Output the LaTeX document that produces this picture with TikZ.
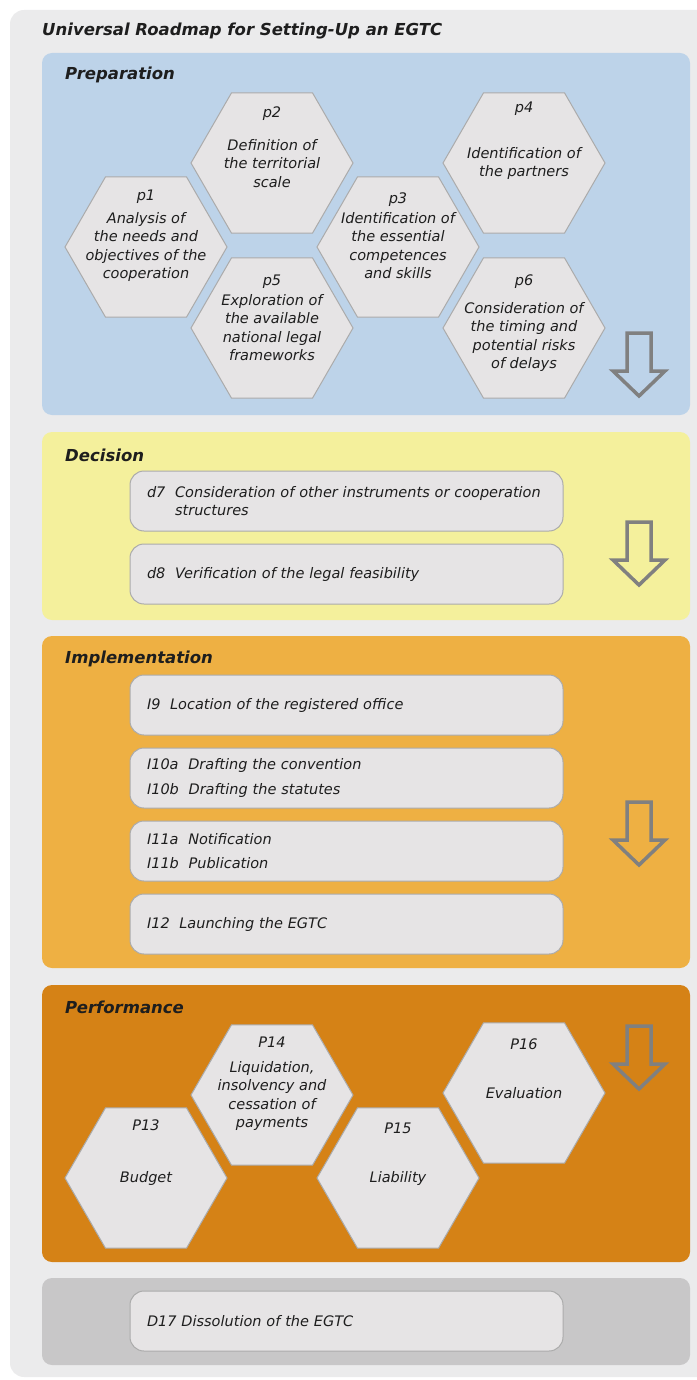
\documentclass[tikz,border=0pt]{standalone}
\usepackage{fontspec}
\setmainfont{DejaVu Sans}
\usetikzlibrary{shapes.geometric,positioning}

\definecolor{bgGray}{HTML}{EBEBEC}
\definecolor{prepBlue}{HTML}{BDD3E9}
\definecolor{decYellow}{HTML}{F4F09C}
\definecolor{implOrange}{HTML}{EEB043}
\definecolor{perfOrange}{HTML}{D58216}
\definecolor{dissGray}{HTML}{C8C7C8}
\definecolor{boxFill}{HTML}{E6E4E5}
\definecolor{boxLine}{HTML}{ABABAB}
\definecolor{arrowGray}{HTML}{808080}
\definecolor{inkBlack}{HTML}{1E1E1E}

\newcommand{\hexfont}{\fontsize{14.5}{18.5}\selectfont\itshape}
\newcommand{\stagearrow}[1]{%
  \draw[stagearr] (#1) ++(-12,0) -- ++(24,0) -- ++(0,38) -- ++(14,0)
    -- ++(-26,25) -- ++(-26,-25) -- ++(14,0) -- cycle;}

\tikzset{
  panel/.style={rounded corners=10pt},
  paneltitle/.style={anchor=west, inner sep=0, text=inkBlack,
    font=\fontsize{16.5}{20}\selectfont\bfseries\itshape},
  hexa/.style={regular polygon, regular polygon sides=6, minimum size=162pt,
    inner sep=0, draw=boxLine, fill=boxFill, line width=1pt},
  hextxt/.style={align=center, inner sep=0, text=inkBlack, font=\hexfont},
  stepbox/.style={rectangle, rounded corners=14pt, draw=boxLine, fill=boxFill,
    line width=1pt, minimum width=433pt, minimum height=60pt, text width=399pt,
    inner xsep=17pt, align=left, text=inkBlack, font=\hexfont},
  stagearr/.style={draw=arrowGray, line width=3.5pt, miter limit=10}
}

\begin{document}
\begin{tikzpicture}[x=1pt,y=-1pt]
  \useasboundingbox (0,0) rectangle (696,1380);

  % background and stages
  \fill[bgGray, rounded corners=14pt] (10,10) rectangle (720,1377);
  \fill[prepBlue, panel] (42,53) rectangle (690,415);
  \fill[decYellow, panel] (42,432) rectangle (690,620);
  \fill[implOrange, panel] (42,636) rectangle (690,968);
  \fill[perfOrange, panel] (42,985) rectangle (690,1262);
  \fill[dissGray, panel] (42,1278) rectangle (690,1365);

  \node[paneltitle] (title) at (42,31) {Universal Roadmap for Setting-Up an EGTC};
  \node[paneltitle] (prep) at (65,75) {Preparation};
  \node[paneltitle] (dec) at (65,455) {Decision};
  \node[paneltitle] (impl) at (65,659) {Implementation};
  \node[paneltitle] (perf) at (65,1007) {Performance};

  % preparation
  \node[hexa] (p1) at (146,247) {};
  \node[hexa] (p2) at (272,163) {};
  \node[hexa] (p3) at (398,247) {};
  \node[hexa] (p4) at (524,163) {};
  \node[hexa] (p5) at (272,328) {};
  \node[hexa] (p6) at (524,328) {};

  \node[hextxt, below=13pt of p1.north] (p1txt) {p1\\[4.5pt]Analysis of\\the needs and\\objectives of the\\cooperation};
  \node[hextxt, below=14pt of p2.north] (p2txt) {p2\\[14.5pt]Definition of\\the territorial\\scale};
  \node[hextxt, below=16pt of p3.north] (p3txt) {p3\\[1.5pt]Identification of\\the essential\\competences\\and skills};
  \node[hextxt, below=9pt of p4.north] (p4txt) {p4\\[27.5pt]Identification of\\the partners};
  \node[hextxt, below=17pt of p5.north] (p5txt) {p5\\[1.5pt]Exploration of\\the available\\national legal\\frameworks};
  \node[hextxt, below=17pt of p6.north] (p6txt) {p6\\[9.5pt]Consideration of\\the timing and\\potential risks\\of delays};

  \coordinate (arrPrep) at (639,333);
  \stagearrow{arrPrep}

  % decision
  \node[stepbox] (d7) at (346.5,501) {d7\ \ Consideration of other instruments or cooperation\\\phantom{d7\ \ }structures};
  \node[stepbox] (d8) at (346.5,574) {d8\ \ Verification of the legal feasibility};

  \coordinate (arrDec) at (639,522);
  \stagearrow{arrDec}

  % implementation
  \node[stepbox] (i9) at (346.5,705) {I9\ \ Location of the registered office};
  \node[stepbox] (i10) at (346.5,778) {I10a\ \ Drafting the convention\\[7pt]I10b\ \ Drafting the statutes};
  \node[stepbox] (i11) at (346.5,851) {I11a\ \ Notification\\[5pt]I11b\ \ Publication};
  \node[stepbox] (i12) at (346.5,924) {I12\ \ Launching the EGTC};

  \coordinate (arrImpl) at (639,802);
  \stagearrow{arrImpl}

  % performance
  \node[hexa] (P13) at (146,1178) {};
  \node[hexa] (P14) at (272,1095) {};
  \node[hexa] (P15) at (398,1178) {};
  \node[hexa] (P16) at (524,1093) {};

  \node[hextxt, below=12pt of P13.north] (P13txt) {P13\\[33.5pt]Budget};
  \node[hextxt, below=12pt of P14.north] (P14txt) {P14\\[6.5pt]Liquidation,\\insolvency and\\cessation of\\payments};
  \node[hextxt, below=15pt of P15.north] (P15txt) {P15\\[30.5pt]Liability};
  \node[hextxt, below=16pt of P16.north] (P16txt) {P16\\[30.5pt]Evaluation};

  \coordinate (arrPerf) at (639,1026);
  \stagearrow{arrPerf}

  % dissolution
  \node[stepbox] (D17) at (346.5,1321) {D17 Dissolution of the EGTC};

\end{tikzpicture}
\end{document}
